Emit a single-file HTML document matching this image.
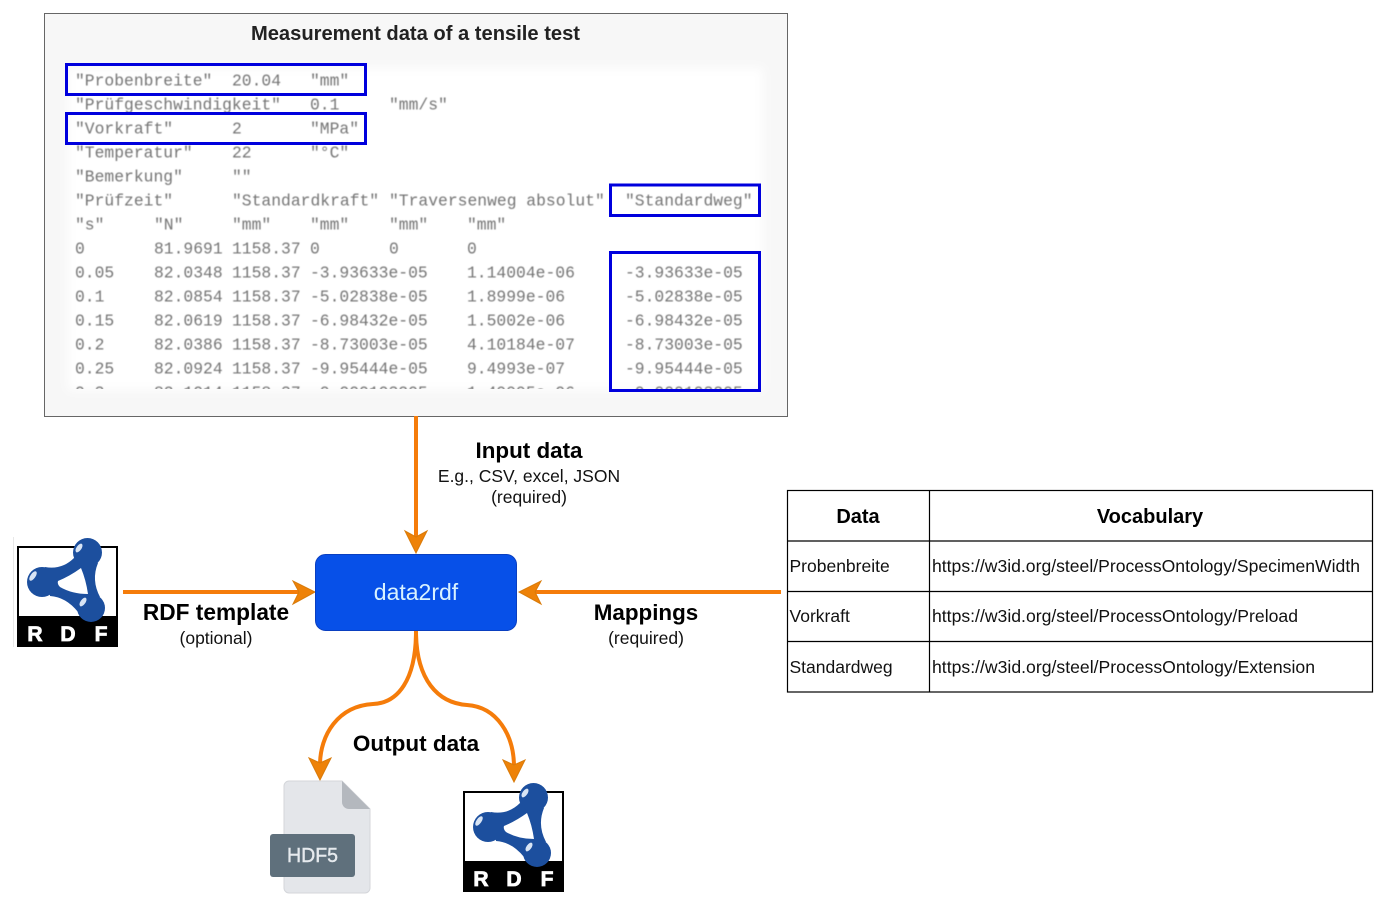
<!DOCTYPE html>
<html><head><meta charset="utf-8"><style>
html,body{margin:0;padding:0;background:#fff}
svg{display:block}
text{font-family:"Liberation Sans",sans-serif}
.m text{font-family:"Liberation Mono",monospace;font-size:16.35px;fill:#747474}
.b{font-weight:bold;fill:#000}
.c{text-anchor:middle}
.t{font-size:17.5px;fill:#111}
.l{font-size:21px;font-weight:bold;fill:#fff;stroke:#fff;stroke-width:.8;text-anchor:middle}
</style></head><body>
<svg width="1386" height="908" viewBox="0 0 1386 908" xmlns="http://www.w3.org/2000/svg">
<defs>
<clipPath id="cp"><rect x="60" y="60" width="710" height="329"/></clipPath>
<filter id="bl" x="-5%" y="-5%" width="110%" height="110%"><feGaussianBlur stdDeviation="0.4"/></filter>
<filter id="bl2" x="-5%" y="-5%" width="110%" height="110%"><feGaussianBlur stdDeviation="5"/></filter>
</defs>
<rect x="44.5" y="13.5" width="743" height="403" fill="#f7f7f7" stroke="#666"/>
<rect x="68" y="68" width="695" height="322" fill="#fff" filter="url(#bl2)"/>
<text x="415.5" y="40" class="b c" font-size="20.15" style="fill:#222">Measurement data of a tensile test</text>
<g class="m" clip-path="url(#cp)" filter="url(#bl)">
<text x="75" y="85.5">"Probenbreite"</text><text x="232" y="85.5">20.04</text><text x="310" y="85.5">"mm"</text>
<text x="75" y="109.5">"Prüfgeschwindigkeit"</text><text x="310" y="109.5">0.1</text><text x="389" y="109.5">"mm/s"</text>
<text x="75" y="133.5">"Vorkraft"</text><text x="232" y="133.5">2</text><text x="310" y="133.5">"MPa"</text>
<text x="75" y="157.5">"Temperatur"</text><text x="232" y="157.5">22</text><text x="310" y="157.5">"°C"</text>
<text x="75" y="181.5">"Bemerkung"</text><text x="232" y="181.5">""</text>
<text x="75" y="205.5">"Prüfzeit"</text><text x="232" y="205.5">"Standardkraft"</text><text x="389" y="205.5">"Traversenweg absolut"</text><text x="625" y="205.5">"Standardweg"</text>
<text x="75" y="229.5">"s"</text><text x="154" y="229.5">"N"</text><text x="232" y="229.5">"mm"</text><text x="310" y="229.5">"mm"</text><text x="389" y="229.5">"mm"</text><text x="467" y="229.5">"mm"</text>
<text x="75" y="253.5">0</text><text x="154" y="253.5">81.9691</text><text x="232" y="253.5">1158.37</text><text x="310" y="253.5">0</text><text x="389" y="253.5">0</text><text x="467" y="253.5">0</text>
<text x="75" y="277.5">0.05</text><text x="154" y="277.5">82.0348</text><text x="232" y="277.5">1158.37</text><text x="310" y="277.5">-3.93633e-05</text><text x="467" y="277.5">1.14004e-06</text><text x="625" y="277.5">-3.93633e-05</text>
<text x="75" y="301.5">0.1</text><text x="154" y="301.5">82.0854</text><text x="232" y="301.5">1158.37</text><text x="310" y="301.5">-5.02838e-05</text><text x="467" y="301.5">1.8999e-06</text><text x="625" y="301.5">-5.02838e-05</text>
<text x="75" y="325.5">0.15</text><text x="154" y="325.5">82.0619</text><text x="232" y="325.5">1158.37</text><text x="310" y="325.5">-6.98432e-05</text><text x="467" y="325.5">1.5002e-06</text><text x="625" y="325.5">-6.98432e-05</text>
<text x="75" y="349.5">0.2</text><text x="154" y="349.5">82.0386</text><text x="232" y="349.5">1158.37</text><text x="310" y="349.5">-8.73003e-05</text><text x="467" y="349.5">4.10184e-07</text><text x="625" y="349.5">-8.73003e-05</text>
<text x="75" y="373.5">0.25</text><text x="154" y="373.5">82.0924</text><text x="232" y="373.5">1158.37</text><text x="310" y="373.5">-9.95444e-05</text><text x="467" y="373.5">9.4993e-07</text><text x="625" y="373.5">-9.95444e-05</text>
<text x="75" y="397.5">0.3</text><text x="154" y="397.5">82.1014</text><text x="232" y="397.5">1158.37</text><text x="310" y="397.5">-0.000103205</text><text x="467" y="397.5">1.49995e-06</text><text x="625" y="397.5">-0.000103205</text>
</g>
<g fill="none" stroke="#0000dd" stroke-width="3">
<rect x="66.5" y="64.5" width="299" height="30"/>
<rect x="66.5" y="113.5" width="299" height="30"/>
<rect x="610.5" y="185" width="149" height="30.5"/>
<rect x="610.5" y="252.5" width="149" height="138"/>
</g>

<!-- arrows -->
<g fill="none" stroke="#f57c0a" stroke-width="4">
<path d="M416 416V540"/>
<path d="M123 592H300"/>
<path d="M781 592H535"/>
<path d="M416 631C416 680 398 703 373 704C338 706 320 735 320 765"/>
<path d="M416 631C416 680 438 703 467 705C497 707 514 735 514 767"/>
</g>
<g fill="#ee8208" stroke="#d97b0a" stroke-width="1">
<path d="M405 531L416 537L427 531L416 553Z"/>
<path d="M293 581L299 592L293 604L315 592Z"/>
<path d="M541 581L535 592L541 604L519 592Z"/>
<path d="M309 758L320 763L331 758L320 780Z"/>
<path d="M503 760L514 765L525 760L514 782Z"/>
</g>

<!-- data2rdf -->
<rect x="315.5" y="554.5" width="201" height="76" rx="10" fill="#0750e8" stroke="#0a3fc0"/>
<text x="416" y="600" class="c" font-size="23" fill="#d8f2ff">data2rdf</text>

<!-- labels -->
<text x="529" y="458" class="b c" font-size="22.4">Input data</text>
<text x="529" y="482" class="c t">E.g., CSV, excel, JSON</text>
<text x="529" y="503" class="c t">(required)</text>
<text x="216" y="620" class="b c" font-size="22.7">RDF template</text>
<text x="216" y="644" class="c t">(optional)</text>
<text x="646" y="620" class="b c" font-size="22.4">Mappings</text>
<text x="646" y="644" class="c t">(required)</text>
<text x="416" y="751" class="b c" font-size="22.5">Output data</text>

<!-- table -->
<g fill="none" stroke="#000" stroke-width="1.2">
<rect x="787.5" y="490.5" width="585" height="201.5"/>
<path d="M929.5 490.5V692M787.5 541H1373M787.5 591.5H1373M787.5 641.5H1373"/>
</g>
<text x="858" y="523" class="b c" font-size="20">Data</text>
<text x="1150" y="523" class="b c" font-size="20">Vocabulary</text>
<text x="789.5" y="572" class="t">Probenbreite</text>
<text x="789.5" y="622" class="t">Vorkraft</text>
<text x="789.5" y="673" class="t">Standardweg</text>
<text x="932" y="572" class="t" textLength="428" lengthAdjust="spacingAndGlyphs">https://w3id.org/steel/ProcessOntology/SpecimenWidth</text>
<text x="932" y="622" class="t" textLength="366" lengthAdjust="spacingAndGlyphs">https://w3id.org/steel/ProcessOntology/Preload</text>
<text x="932" y="673" class="t" textLength="383" lengthAdjust="spacingAndGlyphs">https://w3id.org/steel/ProcessOntology/Extension</text>

<!-- RDF icon 1 -->
<g>
<rect x="13" y="537" width="1" height="110" fill="#e8e8e8"/>
<rect x="18" y="547" width="99" height="70" fill="#fff" stroke="#000" stroke-width="2"/>
<rect x="17" y="617" width="101" height="30" fill="#000"/>
<path d="M74 558Q62 570 45 567L50 596Q66 597 78 612L100 597Q91 580 98 563Z" fill="#1c4f9e"/>
<path d="M58 581Q70 576 81 568Q86 580 88 594Q72 594 60 587Q57 584 58 581Z" fill="#fff"/>
<circle cx="87.5" cy="552.5" r="14.5" fill="#1c4f9e"/><circle cx="42" cy="582" r="15" fill="#1c4f9e"/><circle cx="91" cy="608" r="14" fill="#1c4f9e"/>
<ellipse cx="79" cy="548" rx="2.5" ry="5" transform="rotate(35 79 548)" fill="#d8e4f4"/>
<ellipse cx="33" cy="576" rx="2.5" ry="5.5" transform="rotate(35 33 576)" fill="#d8e4f4"/>
<ellipse cx="83" cy="602" rx="2.5" ry="5" transform="rotate(35 83 602)" fill="#d8e4f4"/>
<text x="35" y="641" class="l">R</text>
<text x="68" y="641" class="l">D</text>
<text x="101" y="641" class="l">F</text>
</g>
<!-- RDF icon 2 -->
<g transform="translate(446 245)">
<rect x="18" y="547" width="99" height="70" fill="#fff" stroke="#000" stroke-width="2"/>
<rect x="17" y="617" width="101" height="30" fill="#000"/>
<path d="M74 558Q62 570 45 567L50 596Q66 597 78 612L100 597Q91 580 98 563Z" fill="#1c4f9e"/>
<path d="M58 581Q70 576 81 568Q86 580 88 594Q72 594 60 587Q57 584 58 581Z" fill="#fff"/>
<circle cx="87.5" cy="552.5" r="14.5" fill="#1c4f9e"/><circle cx="42" cy="582" r="15" fill="#1c4f9e"/><circle cx="91" cy="608" r="14" fill="#1c4f9e"/>
<ellipse cx="79" cy="548" rx="2.5" ry="5" transform="rotate(35 79 548)" fill="#d8e4f4"/>
<ellipse cx="33" cy="576" rx="2.5" ry="5.5" transform="rotate(35 33 576)" fill="#d8e4f4"/>
<ellipse cx="83" cy="602" rx="2.5" ry="5" transform="rotate(35 83 602)" fill="#d8e4f4"/>
<text x="35" y="641" class="l">R</text>
<text x="68" y="641" class="l">D</text>
<text x="101" y="641" class="l">F</text>
</g>

<!-- HDF5 -->
<path d="M289 781H342L370 809V888a5 5 0 0 1-5 5H289a5 5 0 0 1-5-5V786a5 5 0 0 1 5-5Z" fill="#e4e6ea" stroke="#d4d6da"/>
<path d="M342 781L370 809H349a7 7 0 0 1-7-7Z" fill="#b4b8be"/>
<rect x="270" y="834" width="85" height="43" rx="3" fill="#5f707c"/>
<text x="312.5" y="862" class="c" font-size="20" fill="#e6eaee" stroke="#e6eaee" stroke-width=".4" textLength="51" lengthAdjust="spacingAndGlyphs">HDF5</text>
</svg>
</body></html>
